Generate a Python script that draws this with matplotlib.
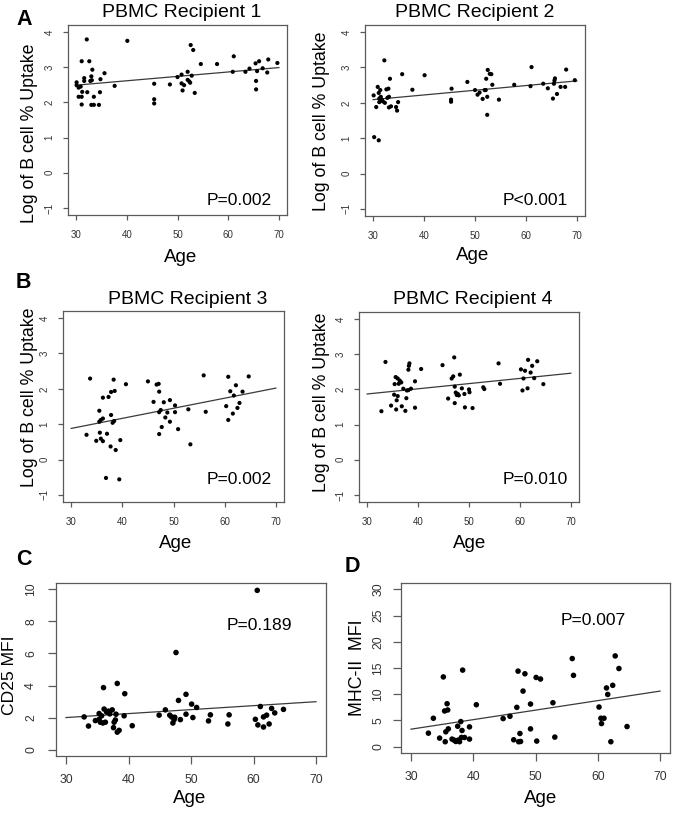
import matplotlib
matplotlib.use("Agg")
import matplotlib.pyplot as plt

plt.rcParams['font.family'] = ['Liberation Sans', 'DejaVu Sans']

# ---------------- data ----------------
r1_age = [30.1,30.1,30.5,30.5,30.9,31.1,31.1,31.1,31.2,31.6,31.6,32.1,32.2,32.6,32.8,33.0,33.1,33.2,33.0,33.5,
          33.5,34.5,34.7,34.8,35.6,37.6,40.1,45.4,45.4,45.4,48.5,50.0,50.8,50.8,51.0,51.3,52.0,52.0,52.3,52.5,
          52.6,52.8,53.1,53.4,54.6,57.8,60.9,61.1,63.4,64.2,65.4,65.5,65.5,65.7,66.1,66.8,67.7,67.9,69.7]
r1_val = [2.57,2.49,2.42,2.16,2.45,3.17,2.16,1.94,2.30,2.69,2.61,3.79,2.29,3.17,2.61,2.74,2.63,2.93,1.93,1.93,
          2.16,1.93,2.29,2.66,2.83,2.47,3.75,2.53,2.09,1.97,2.51,2.72,2.79,2.54,2.34,2.49,2.64,2.87,2.60,2.56,
          3.63,2.76,3.49,2.27,3.09,3.09,2.87,3.31,2.87,2.96,3.11,2.61,2.37,2.89,3.17,2.97,2.85,3.22,3.12]

r2_age = [30.1,30.2,30.6,30.9,31.1,31.1,31.2,31.2,31.4,31.5,31.7,31.9,32.2,32.3,32.6,32.8,33.0,33.1,33.1,33.3,
          33.5,34.5,34.7,34.9,35.7,37.7,40.1,45.4,45.3,45.3,48.5,50.0,50.5,50.9,51.5,51.9,52.1,52.2,52.4,52.4,
          52.5,52.9,53.2,53.4,54.7,57.7,60.9,61.1,63.4,64.3,65.3,65.5,65.6,65.7,66.1,66.8,67.7,67.9,69.6]
r2_val = [2.21,1.03,1.88,2.45,0.94,2.28,2.12,2.02,2.36,2.17,2.09,2.04,3.20,2.00,2.38,2.14,2.40,2.17,1.87,2.68,
          1.90,1.88,1.78,2.02,2.81,2.37,2.78,2.40,2.09,2.03,2.59,2.36,2.23,2.29,2.11,2.36,2.36,2.68,2.17,1.66,
          2.93,2.82,2.81,2.51,2.09,2.51,2.47,3.01,2.54,2.41,2.12,2.54,2.63,2.69,2.25,2.45,2.45,2.94,2.64]

r3_age = [33.7,33.0,34.9,35.6,35.5,35.5,35.8,35.8,36.2,36.2,36.2,36.8,37.0,37.3,37.7,37.8,37.8,38.1,38.3,38.4,
          38.5,38.7,39.4,39.6,40.7,45.0,46.1,46.7,47.1,47.2,47.2,47.2,47.5,47.7,48.1,48.4,48.8,49.3,49.3,50.3,
          50.3,50.9,52.9,53.3,55.9,56.3,60.3,60.7,60.7,61.1,61.6,61.8,62.2,62.5,62.9,63.5,64.7]
r3_val = [2.29,0.70,0.53,0.76,1.38,1.07,1.12,0.59,0.52,1.75,1.16,-0.52,0.73,1.77,0.37,1.91,1.26,1.04,2.26,1.09,
          1.94,0.27,-0.56,0.55,2.13,2.21,1.63,2.12,2.14,1.92,1.34,0.72,1.40,0.92,1.62,1.19,1.33,1.68,1.07,1.53,
          1.34,0.86,1.42,0.43,2.38,1.35,1.51,2.34,1.12,1.93,1.30,1.81,2.10,1.46,1.60,1.92,2.35]

r4_age = [32.8,33.6,34.7,35.3,35.4,35.6,35.7,35.8,36.0,36.0,36.2,36.4,36.7,36.8,37.1,37.5,37.7,37.8,38.1,38.1,
          38.2,38.3,38.6,39.4,39.4,40.6,44.8,45.9,46.6,46.9,47.1,47.2,47.2,47.4,47.6,47.8,48.0,48.2,48.6,49.1,
          49.2,50.0,50.1,50.7,52.8,53.0,55.8,56.1,60.2,60.5,60.7,61.0,61.5,61.6,62.1,62.4,62.8,63.4,64.6]
r4_val = [1.38,2.78,1.54,1.85,2.15,2.35,1.43,1.69,1.81,2.31,2.16,2.25,2.20,1.52,2.02,1.39,1.75,1.97,1.98,2.56,
          2.67,2.74,2.02,2.23,1.48,2.58,2.69,1.74,2.31,2.37,2.91,2.08,1.61,1.91,1.84,1.87,1.83,2.42,2.03,1.87,
          1.49,2.00,1.92,1.47,2.06,2.01,2.74,2.16,2.57,1.97,2.31,2.53,2.03,2.84,2.48,2.67,2.32,2.80,2.15]

cd25_age = [32.9,33.6,34.7,35.3,35.3,35.5,35.7,35.9,36.0,36.1,36.3,36.5,36.8,37.0,37.4,37.6,37.7,37.9,38.0,38.2,
            38.2,38.5,39.3,39.4,40.6,44.9,45.9,46.6,46.9,47.1,47.3,47.4,47.6,48.0,48.3,49.2,49.2,50.1,50.3,50.9,
            52.8,53.1,55.9,56.1,60.3,60.6,60.7,61.1,61.6,61.6,62.1,62.5,62.9,63.4,64.8]
cd25_val = [2.04,1.47,1.81,2.25,1.89,1.71,2.11,1.66,3.87,2.53,1.71,2.34,2.40,2.23,2.48,1.37,1.71,1.85,2.21,4.13,
            1.09,1.20,2.11,3.49,1.49,2.15,2.48,2.15,2.04,1.66,1.87,2.02,6.06,3.07,1.87,3.45,2.21,2.84,2.00,2.63,
            1.79,2.17,1.60,2.17,1.89,9.94,1.54,2.69,1.41,2.04,2.15,1.60,2.57,2.29,2.51]

mhc_age = [32.8,33.6,34.6,35.2,35.4,35.5,35.6,35.8,35.9,36.0,36.6,36.9,37.2,37.5,37.6,37.8,38.0,38.1,38.2,38.3,
           38.6,39.4,39.4,40.5,44.8,45.9,46.5,47.0,47.2,47.3,47.5,47.6,48.0,48.3,49.2,49.2,50.1,50.2,50.8,52.8,
           53.1,55.9,56.1,60.2,60.5,60.6,61.0,61.4,61.6,62.1,62.4,62.8,63.4,64.7]
mhc_val = [2.58,5.42,1.64,13.3,6.81,0.95,2.84,8.19,7.0,3.40,1.45,1.26,1.0,3.9,1.26,0.95,4.79,1.76,3.09,14.6,
           1.76,1.45,3.78,8.0,5.36,5.8,1.32,7.5,14.4,0.95,2.52,1.0,10.6,13.9,8.13,3.40,13.2,1.07,12.9,8.38,
           1.83,16.8,13.6,7.56,5.42,4.41,5.42,11.2,9.96,0.95,11.7,17.3,14.9,3.84]

# fitted regression lines, value at age 30 and at age 70
fit_age = [30, 70]
fit_r1 = [2.49, 2.99]
fit_r2 = [2.09, 2.62]
fit_r3 = [0.88, 2.02]
fit_r4 = [1.87, 2.46]
fit_cd25 = [2.00, 2.99]
fit_mhc = [3.34, 10.6]

titles = ["PBMC Recipient 1", "PBMC Recipient 2", "PBMC Recipient 3", "PBMC Recipient 4"]
pvals = ["P=0.002", "P<0.001", "P=0.002", "P=0.010", "P=0.189", "P=0.007"]
x_ticks = [30, 40, 50, 60, 70]
y_ticks_ab = [-1, 0, 1, 2, 3, 4]
y_ticks_c = [0, 2, 4, 6, 8, 10]
y_ticks_d = [0, 5, 10, 15, 20, 25, 30]

# ---------------- layout ----------------
W, H = 675, 813
fig = plt.figure(figsize=(W / 100, H / 100), dpi=100)
fig.patch.set_facecolor('white')

FRAME = '#5a5a5a'
TICKLAB = '#333333'


def add_ax(l, t, r, b):
    return fig.add_axes([l / W, 1 - b / H, (r - l) / W, (b - t) / H])


def ftext(x, y, s, **kw):
    fig.text(x / W, 1 - y / H, s, **kw)


def style(ax, yticks, ylim, tick_fs, tlen, xpad, ypad):
    ax.set_xlim(28.4, 71.6)
    ax.set_ylim(*ylim)
    ax.set_xticks(x_ticks)
    ax.set_yticks(yticks)
    for sp in ax.spines.values():
        sp.set_color(FRAME)
        sp.set_linewidth(0.9)
    ax.tick_params(axis='both', direction='out', length=tlen, width=0.9,
                   color=FRAME, labelsize=tick_fs, labelcolor=TICKLAB)
    ax.tick_params(axis='x', pad=xpad)
    ax.tick_params(axis='y', pad=ypad, labelrotation=90)
    for lab in ax.get_yticklabels():
        lab.set_va('center')


def scatter_panel(ax, age, val, fit, ms):
    ax.scatter(age, val, s=ms, color='black', edgecolors='none', zorder=3)
    ax.plot(fit_age, fit, color='#3a3a3a', lw=0.9, zorder=2)


# Panel A / B (recipient plots)
rects = [(68, 25, 287, 215), (365, 25, 585, 216), (63, 311, 284, 502), (359, 312, 579, 502)]
datasets = [(r1_age, r1_val, fit_r1), (r2_age, r2_val, fit_r2),
            (r3_age, r3_val, fit_r3), (r4_age, r4_val, fit_r4)]
for rect, (a, v, f) in zip(rects, datasets):
    ax = add_ax(*rect)
    scatter_panel(ax, a, v, f, 9)
    style(ax, y_ticks_ab, (-1.2, 4.2), 7, 3.8, 7, 6)

# Panel C
axc = add_ax(56, 583, 326, 756)
scatter_panel(axc, cd25_age, cd25_val, fit_cd25, 16)
style(axc, y_ticks_c, (-0.4, 10.4), 8.8, 5.5, 7.5, 8)

# Panel D
axd = add_ax(401, 583, 670, 753)
scatter_panel(axd, mhc_age, mhc_val, fit_mhc, 16)
style(axd, y_ticks_d, (-1.2, 31.2), 8.8, 5.5, 7.5, 6.5)

# ---------------- texts ----------------
title_pos = [(182, 17), (474.6, 17), (187.5, 304.5), (472.5, 304.5)]
for (x, y), t in zip(title_pos, titles):
    ftext(x, y, t, ha='center', va='baseline', fontsize=14)

for x, y in [(181, 262), (473, 260), (176, 548), (470, 548), (190, 803), (541, 803)]:
    ftext(x, y, "Age", ha='center', va='baseline', fontsize=13.5)

for x, y in [(29.5, 133), (322, 121), (29.5, 397), (322, 402)]:
    ftext(x, y, "Log of B cell % Uptake", ha='center', va='center', rotation=90, fontsize=12.8)
ftext(10, 675, "CD25 MFI", ha='center', va='center', rotation=90, fontsize=12.6)
ftext(357, 668, "MHC-II  MFI", ha='center', va='center', rotation=90, fontsize=12.8)

p_pos = [(207, 205), (503, 205), (207, 484), (503, 484), (227, 630), (561, 625)]
for (x, y), p in zip(p_pos, pvals):
    ftext(x, y, p, ha='left', va='baseline', fontsize=12.6)

for x, y, s in [(16, 25, "A"), (16, 288, "B"), (16, 565, "C"), (345, 572, "D")]:
    ftext(x, y, s, ha='left', va='baseline', fontsize=15.5, fontweight='bold')

fig.savefig("out.png", dpi=100)
